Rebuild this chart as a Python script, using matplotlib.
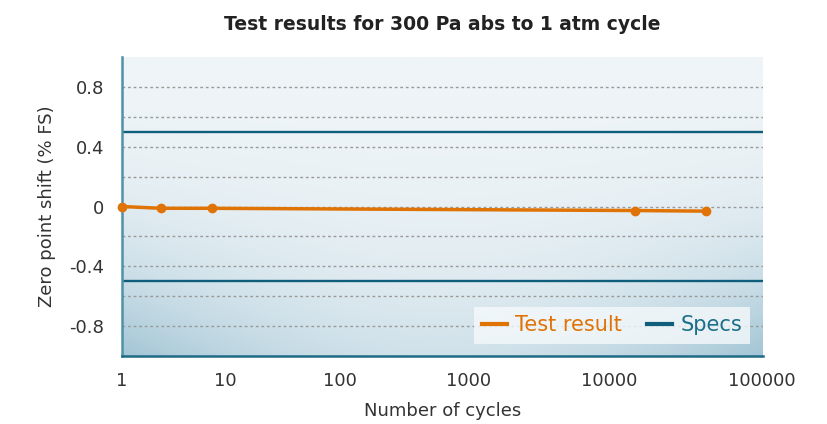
import matplotlib

matplotlib.use("Agg")
import matplotlib.pyplot as plt
import numpy as np
from matplotlib.colors import LinearSegmentedColormap

# --- data ---
cycles = [1, 2, 5, 10000, 36000]
zero_shift = [0.0, -0.012, -0.012, -0.027, -0.031]
spec_limits = [0.5, -0.5]
x_labels = ["1", "10", "100", "1000", "10000", "100000"]
y_ticks = [0.8, 0.4, 0.0, -0.4, -0.8]
y_ticklabels = ["0.8", "0.4", "0", "-0.4", "-0.8"]

ORANGE = "#e07306"
TEAL = "#0f5f7c"

plt.rcParams["font.family"] = ["DejaVu Sans"]

fig = plt.figure(figsize=(8.28, 4.24), dpi=100)
rect = [122 / 828, 68 / 424, 641 / 828, 299 / 424]

# background gradient on its own linear axes (light top, bluish bottom corners)
bg = fig.add_axes(rect, zorder=0)
u, v = np.meshgrid(np.linspace(0, 1, 300), np.linspace(0, 1, 200))
w = (1 - v) ** 2.4 * (0.4 + 0.6 * ((u - 0.5) / 0.5) ** 2)
cmap = LinearSegmentedColormap.from_list("bg", ["#eef4f7", "#a2c5d5"])
bg.imshow(w, cmap=cmap, vmin=0, vmax=1, origin="lower", aspect="auto",
          extent=[0, 1, 0, 1])
bg.set_axis_off()

ax = fig.add_axes(rect, zorder=1)
ax.patch.set_alpha(0)
ax.set_xscale("log")
ax.set_xlim(1, 1e5)
ax.set_ylim(-1, 1)

# dotted grid every 0.2
for g in np.arange(-0.8, 0.81, 0.2):
    ax.axhline(g, color="#9a9a9a", linestyle=(0, (2, 2)), linewidth=1, zorder=1)

for s in spec_limits:
    ax.axhline(s, color=TEAL, linewidth=1.7, zorder=2)
ax.plot([], [], color=TEAL, linewidth=3, label="Specs")

ax.plot(cycles, zero_shift, color=ORANGE, linewidth=2.5, marker="o", markersize=6,
        zorder=4, label="Test result", clip_on=False)

for side in ("top", "right"):
    ax.spines[side].set_visible(False)
ax.spines["left"].set_color("#4f92a8")
ax.spines["left"].set_linewidth(1.8)
ax.spines["bottom"].set_color("#1f6a85")
ax.spines["bottom"].set_linewidth(1.8)

ax.set_yticks(y_ticks)
ax.set_yticklabels(y_ticklabels)
ax.tick_params(axis="y", length=0, pad=13, labelsize=13, labelcolor="#333333")
ax.set_xticks([])
ax.xaxis.set_minor_locator(matplotlib.ticker.NullLocator())

# x labels laid out across the axis like the original (evenly spaced gaps)
label_centers = [0.0, 0.161, 0.340, 0.540, 0.760, 0.998]
for lab, cx in zip(x_labels, label_centers):
    ax.text(cx, -0.083, lab, transform=ax.transAxes, ha="center", va="center",
            fontsize=13, color="#333333")

ax.set_ylabel("Zero point shift (% FS)", fontsize=13, color="#333333", labelpad=9)
ax.text(0.5, -0.185, "Number of cycles", transform=ax.transAxes, ha="center",
        va="center", fontsize=13, color="#333333")
fig.text(442 / 828, 1 - 24 / 424, "Test results for 300 Pa abs to 1 atm cycle",
         ha="center", va="center", fontsize=13.5, fontweight="bold", color="#222222")

handles, labels = ax.get_legend_handles_labels()
order = [labels.index("Test result"), labels.index("Specs")]
leg = ax.legend([handles[i] for i in order], [labels[i] for i in order],
                loc="lower right", ncol=2, fontsize=15, frameon=True,
                handlelength=1.2, handletextpad=0.4, columnspacing=1.2,
                borderaxespad=0.6, fancybox=False)
leg.get_frame().set_facecolor("#f5f9fb")
leg.get_frame().set_edgecolor("none")
leg.get_frame().set_alpha(0.8)
for line in leg.get_lines():
    line.set_marker("")
    line.set_linewidth(3)
for txt, col in zip(leg.get_texts(), [ORANGE, "#1a6f8a"]):
    txt.set_color(col)

fig.savefig("out.png", dpi=100)
